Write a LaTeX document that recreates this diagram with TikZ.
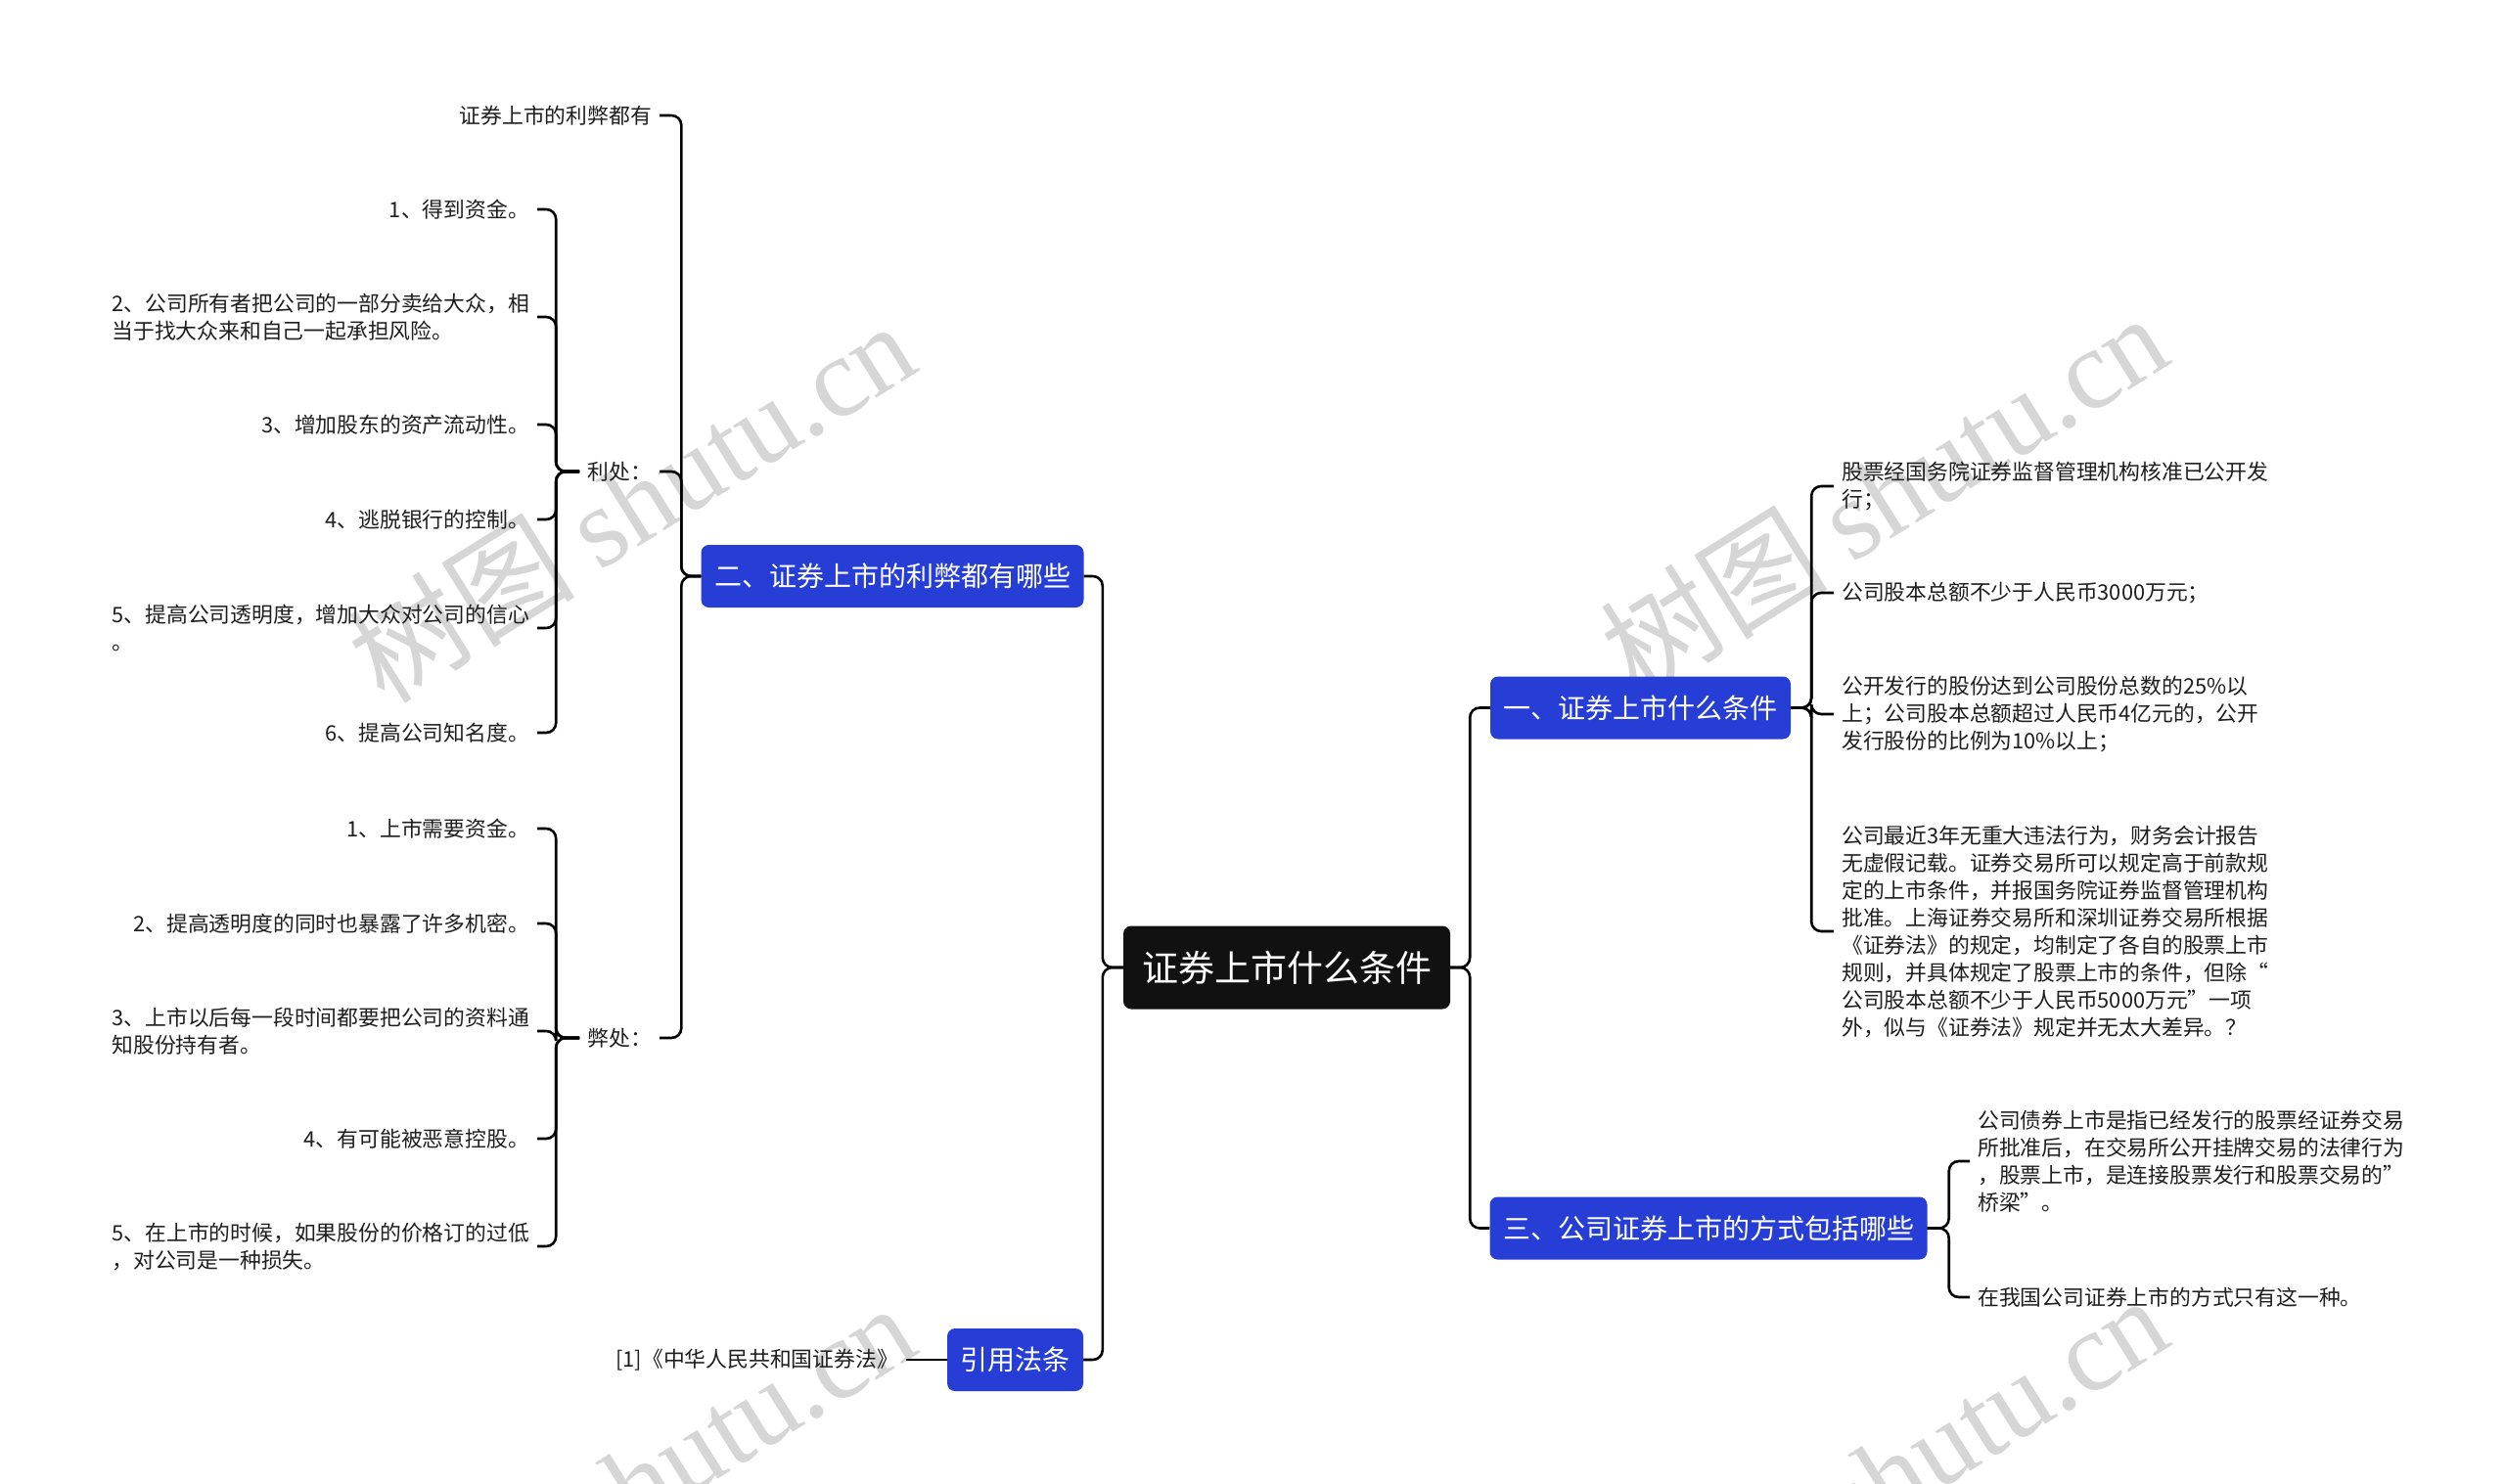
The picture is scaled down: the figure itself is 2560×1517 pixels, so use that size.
\documentclass[tikz,border=0pt]{standalone}
\usepackage{fontspec}
\setmainfont{Noto Sans CJK SC}
\newfontfamily\wmfont{Liberation Serif}
\definecolor{brblue}{RGB}{38,62,214}
\definecolor{rootblack}{RGB}{17,17,17}
\definecolor{wmgray}{RGB}{214,214,214}
\definecolor{leaftext}{RGB}{30,30,30}
\tikzset{
  rootbox/.style={fill=rootblack, text=white, rounded corners=8pt,
    font=\fontsize{37}{44}\selectfont, inner xsep=19pt, inner ysep=0pt, minimum height=85pt},
  branchbox/.style={fill=brblue, text=white, rounded corners=8pt,
    font=\fontsize{28}{34}\selectfont, inner xsep=13.5pt, inner ysep=0pt, minimum height=64pt},
  leaf/.style={font=\fontsize{21.8}{28}\selectfont, align=left, inner xsep=8pt, inner ysep=2pt, text=leaftext},
  leafL/.style={leaf, anchor=east},
  leafR/.style={leaf, anchor=west},
  conn/.style={draw=black, line width=2.6pt, rounded corners=10pt},
  wm/.style={text=wmgray, rotate=32, font=\fontsize{116}{126}\selectfont, inner sep=0pt}
}
\begin{document}
\begin{tikzpicture}[x=1pt,y=-1pt]
\fill[white] (0,0) rectangle (2560,1517);
\useasboundingbox (0,0) rectangle (2560,1517);

% watermarks
\node[wm] (wm1) at (645,512) {树图 {\wmfont shutu.cn}};
\node[wm] (wm2) at (1925,504) {树图 {\wmfont shutu.cn}};
\node[wm] (wm3) at (645,1516) {树图 {\wmfont shutu.cn}};
\node[wm] (wm4) at (1925,1508) {树图 {\wmfont shutu.cn}};

% main nodes
\node[rootbox] (root) at (1315,989) {证券上市什么条件};
\node[branchbox] (b2) at (912,589) {二、证券上市的利弊都有哪些};
\node[branchbox] (cite) at (1037.5,1390) {引用法条};
\node[branchbox] (b1) at (1676.5,723.5) {一、证券上市什么条件};
\node[branchbox] (b3) at (1746,1255.5) {三、公司证券上市的方式包括哪些};

% left level 2
\node[leafL] (l0) at (674,118) {证券上市的利弊都有};
\node[leafL] (li) at (674,482) {利处：};
\node[leafL] (bi) at (674,1061) {弊处：};

% advantages
\node[leafL] (a1) at (549,214) {1、得到资金。};
\node[leafL] (a2) at (549,324) {2、公司所有者把公司的一部分卖给大众，相\\当于找大众来和自己一起承担风险。};
\node[leafL] (a3) at (549,434) {3、增加股东的资产流动性。};
\node[leafL] (a4) at (549,531) {4、逃脱银行的控制。};
\node[leafL] (a5) at (549,642) {5、提高公司透明度，增加大众对公司的信心\\。};
\node[leafL] (a6) at (549,749) {6、提高公司知名度。};

% disadvantages
\node[leafL] (d1) at (549,847) {1、上市需要资金。};
\node[leafL] (d2) at (549,944) {2、提高透明度的同时也暴露了许多机密。};
\node[leafL] (d3) at (549,1054) {3、上市以后每一段时间都要把公司的资料通\\知股份持有者。};
\node[leafL] (d4) at (549,1164) {4、有可能被恶意控股。};
\node[leafL] (d5) at (549,1274) {5、在上市的时候，如果股份的价格订的过低\\，对公司是一种损失。};

% citation
\node[leafL] (law) at (926,1390) {[1]《中华人民共和国证券法》};

% right: conditions
\node[leafR] (r1) at (1874,497) {股票经国务院证券监督管理机构核准已公开发\\行；};
\node[leafR] (r2) at (1874,606) {公司股本总额不少于人民币3000万元；};
\node[leafR] (r3) at (1874,730) {公开发行的股份达到公司股份总数的25\%以\\上；公司股本总额超过人民币4亿元的，公开\\发行股份的比例为10\%以上；};
\node[leafR] (r4) at (1874,952) {公司最近3年无重大违法行为，财务会计报告\\无虚假记载。证券交易所可以规定高于前款规\\定的上市条件，并报国务院证券监督管理机构\\批准。上海证券交易所和深圳证券交易所根据\\《证券法》的规定，均制定了各自的股票上市\\规则，并具体规定了股票上市的条件，但除“\\公司股本总额不少于人民币5000万元”一项\\外，似与《证券法》规定并无太大差异。？};

% right: ways
\node[leafR] (t1) at (2013,1187) {公司债券上市是指已经发行的股票经证券交易\\所批准后，在交易所公开挂牌交易的法律行为\\，股票上市，是连接股票发行和股票交易的\symbol{34}\\桥梁\symbol{34}。};
\node[leafR] (t2) at (2013,1326) {在我国公司证券上市的方式只有这一种。};

% connectors
\draw[conn] (root.west) -- ++(-21,0) |- (b2.east);
\draw[conn] (root.west) -- ++(-21,0) |- (cite.east);
\draw[conn] (root.east) -- ++(20,0) |- (b1.west);
\draw[conn] (root.east) -- ++(20,0) |- (b3.west);

\foreach \c in {l0,li,bi}{
  \draw[conn] (b2.west) -- ++(-20,0) |- (\c.east);
}
\foreach \c in {a1,a2,a3,a4,a5,a6}{
  \draw[conn] (li.west) -- ++(-24,0) |- (\c.east);
}
\foreach \c in {d1,d2,d3,d4,d5}{
  \draw[conn] (bi.west) -- ++(-24,0) |- (\c.east);
}
\draw[conn] (cite.west) -- (law.east);
\foreach \c in {r1,r2,r3,r4}{
  \draw[conn] (b1.east) -- ++(21,0) |- (\c.west);
}
\foreach \c in {t1,t2}{
  \draw[conn] (b3.east) -- ++(22,0) |- (\c.west);
}
\end{tikzpicture}
\end{document}
